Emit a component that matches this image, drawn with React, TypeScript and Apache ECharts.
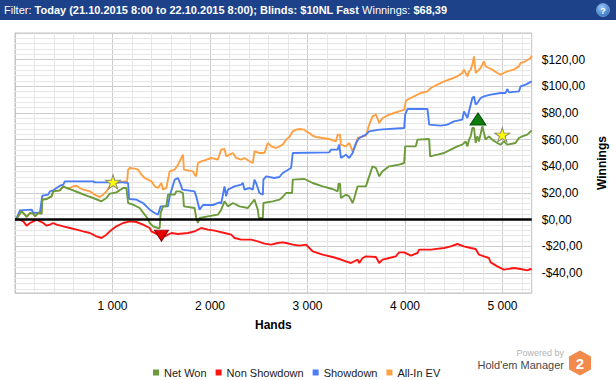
import React, { useEffect, useRef } from 'react';
import * as echarts from 'echarts';

// ---- data (hands, winnings $) ----
const netWon: [number, number][] = [
  [0, 0], [10, 0], [68, 6.25], [102, 3.75], [119, 2], [154, 5], [188, 4.5], [205, 2.5], [239, 5], [273, 4.5],
  [280, 15], [324, 15.5], [375, 17.5], [392, 21.25], [461, 22], [495, 25], [529, 23.75], [597, 22], [665, 20],
  [733, 18], [802, 16.25], [887, 13.75], [938, 16.25], [972, 19.5], [1040, 20.5], [1109, 23.75], [1143, 23.75],
  [1160, 12.5], [1211, 11.25], [1279, 8.75], [1330, 3.75], [1360, 1], [1382, -2.5], [1416, -5], [1467, -6.25],
  [1484, -6.25], [1494, 5], [1518, 10], [1552, 10], [1569, 18.75], [1638, 18.75], [1654, 21.25], [1689, 21.25],
  [1723, 20], [1733, 10], [1842, 8.75], [1859, 1.25], [1876, -2.5], [1893, 1.25], [1979, 2.5], [2081, 3.75],
  [2115, 7.5], [2149, 13.75], [2183, 10], [2235, 12.5], [2303, 10], [2388, 8.75], [2456, 15], [2490, 7.5],
  [2501, 1.25], [2542, 1.25], [2548, 12.5], [2644, 13.75], [2712, 15], [2746, 17], [2780, 20], [2842, 20],
  [2849, 30], [2968, 30.5], [3053, 27.5], [3155, 25], [3258, 23], [3309, 21.25], [3319, 27], [3333, 27],
  [3343, 16.25], [3394, 18.75], [3428, 17.5], [3463, 12.5], [3480, 16.25], [3514, 25], [3599, 25], [3633, 32.5],
  [3667, 40], [3702, 38.75], [3736, 32.5], [3770, 36.25], [3838, 40], [3940, 41.25], [3992, 42.5], [4002, 55],
  [4111, 55], [4128, 60], [4248, 60.5], [4258, 47.5], [4333, 48.75], [4401, 50], [4469, 52.5], [4537, 55],
  [4588, 56.25], [4622, 58.75], [4640, 55], [4657, 60], [4674, 62.5], [4691, 68.75], [4708, 68.75], [4725, 57.5],
  [4742, 62.5], [4759, 58.75], [4793, 70], [4810, 65], [4827, 60], [4861, 62.5], [4895, 60], [4947, 57.5],
  [4981, 56.25], [5015, 58.75], [5049, 56.25], [5134, 57.5], [5169, 61.25], [5203, 62.5], [5254, 63.75], [5300, 67],
];

const nonShowdown: [number, number][] = [
  [0, 0], [51, 0], [85, -1.25], [119, -4.5], [154, -2.5], [188, -1.25], [222, 0], [256, -1.25], [290, -2.5],
  [324, -4.5], [358, -3.75], [392, -2.5], [426, -3.75], [495, -5], [563, -6.25], [631, -7.5], [699, -8.75],
  [768, -10], [836, -12.5], [887, -13.75], [938, -11.25], [972, -8.75], [1040, -5], [1109, -2.5], [1177, -1.25],
  [1245, -1.75], [1314, -3.75], [1382, -6.25], [1399, -8.75], [1467, -11.25], [1535, -12.5], [1604, -10],
  [1672, -10.75], [1774, -10], [1842, -8.75], [1910, -6.25], [1979, -7.5], [2047, -8.25], [2149, -10],
  [2218, -11.25], [2252, -13.75], [2320, -15], [2422, -15], [2490, -16.25], [2559, -18], [2627, -18.75],
  [2695, -17.5], [2746, -17], [2780, -17.5], [2849, -18.75], [2917, -19.5], [2985, -18.75], [3019, -21.25],
  [3053, -23.75], [3155, -26.25], [3258, -28], [3326, -29.5], [3394, -31.25], [3446, -32.5], [3514, -30],
  [3531, -32.5], [3565, -28.75], [3599, -27.5], [3702, -28], [3736, -32.5], [3770, -30], [3838, -28.75],
  [3906, -27.5], [3940, -24.5], [3992, -24.5], [4060, -27], [4128, -25], [4145, -22.5], [4265, -22.5],
  [4401, -21.25], [4469, -20], [4537, -18.25], [4605, -20], [4674, -21.25], [4725, -22], [4759, -26.25],
  [4810, -27.5], [4861, -28.75], [4879, -32], [4947, -35], [5015, -37.5], [5117, -36.25], [5186, -37],
  [5254, -38], [5288, -37], [5300, -37.5],
];

const showdown: [number, number][] = [
  [0, 0], [10, 0], [51, 7], [171, 7.5], [188, 5], [256, 5.5], [280, 18], [341, 18.75], [358, 21.25], [392, 22],
  [426, 23.75], [461, 25.5], [495, 26.25], [512, 28.75], [802, 28.75], [819, 28], [1109, 28], [1160, 27.5],
  [1170, 15.5], [1245, 15], [1279, 13.75], [1314, 12.5], [1348, 10], [1382, 7.5], [1433, 5], [1467, 3.75],
  [1494, 10], [1569, 10], [1586, 17.5], [1638, 30], [1672, 31.25], [1706, 25], [1716, 22.5], [1842, 21.25],
  [1859, 17.5], [1893, 7.5], [1928, 11], [2030, 11], [2098, 13], [2115, 12], [2149, 25], [2166, 17.5],
  [2183, 22.5], [2252, 25], [2320, 26.25], [2337, 27.5], [2354, 22.5], [2405, 23.75], [2439, 22.5], [2456, 30],
  [2473, 27.5], [2507, 20], [2542, 18.75], [2548, 30], [2576, 32.5], [2661, 31.25], [2712, 32], [2746, 35],
  [2832, 38.75], [2849, 50], [3224, 50.5], [3241, 52.5], [3309, 52.5], [3326, 56.25], [3343, 46.25],
  [3394, 48.75], [3428, 46.25], [3463, 50], [3497, 57.5], [3531, 61.25], [3599, 63.75], [3633, 66.25],
  [3736, 67.5], [3992, 68.75], [4002, 78.75], [4026, 83], [4231, 83], [4248, 71.25], [4367, 70.5],
  [4435, 71.25], [4503, 73.75], [4588, 75], [4605, 81.25], [4640, 76.25], [4657, 81.25], [4691, 91.25],
  [4708, 92.5], [4725, 86.25], [4742, 87.5], [4776, 91.25], [4810, 92.5], [4879, 93.75], [4981, 95],
  [5032, 95], [5049, 98], [5066, 95.5], [5169, 96.25], [5186, 100], [5237, 101.25], [5300, 103.75],
];

const allInEV: [number, number][] = [
  [0, 0], [10, 0], [68, 6.25], [102, 3.75], [119, 2], [154, 5], [188, 4.5], [205, 2.5], [239, 5], [273, 4.5],
  [280, 15], [324, 15.5], [375, 17.5], [392, 21.25], [461, 22], [495, 25], [529, 23.75], [570, 24], [597, 25],
  [631, 25.5], [665, 23.75], [699, 22.5], [768, 21.25], [802, 19.5], [836, 18], [870, 17], [904, 18.75],
  [938, 21.25], [972, 25], [1040, 27.5], [1126, 28.75], [1150, 28.75], [1160, 37.5], [1177, 38.75],
  [1228, 38.25], [1262, 37.5], [1297, 33.75], [1331, 31.25], [1365, 30], [1399, 28.75], [1433, 25],
  [1467, 23.75], [1501, 27.5], [1518, 22.5], [1552, 23.75], [1569, 30], [1586, 36.25], [1638, 37.5],
  [1672, 41.25], [1706, 46.25], [1723, 48.75], [1733, 37.5], [1825, 36.25], [1842, 33.75], [1859, 32.5],
  [1876, 42.5], [1910, 43.75], [1944, 44.5], [2013, 46.25], [2081, 45], [2115, 52.5], [2149, 53],
  [2166, 47.5], [2200, 48.75], [2235, 50], [2269, 46.25], [2320, 45], [2354, 46.25], [2405, 43.75],
  [2439, 42.5], [2456, 51.25], [2507, 50], [2559, 50], [2593, 57.5], [2627, 55], [2678, 53.75], [2712, 55],
  [2746, 56.25], [2780, 60], [2815, 62], [2849, 66.25], [2883, 67.5], [2917, 68], [2968, 67.5], [2985, 66.25],
  [3019, 65], [3053, 63], [3087, 62], [3155, 61.25], [3224, 60.5], [3292, 58.75], [3309, 63.75], [3333, 63.75],
  [3343, 56.25], [3394, 55], [3428, 57.5], [3463, 51.25], [3497, 56.25], [3514, 61.25], [3599, 63],
  [3633, 71.25], [3667, 77.5], [3702, 78.75], [3736, 72.5], [3770, 76.25], [3838, 78.75], [3889, 80],
  [3940, 81.25], [3992, 82.5], [4009, 88.75], [4026, 90], [4060, 91.25], [4128, 93.75], [4162, 95],
  [4231, 96.25], [4265, 98.75], [4333, 101.25], [4401, 103.75], [4469, 105.5], [4537, 107.5], [4588, 110],
  [4605, 112.5], [4640, 107.5], [4657, 111.25], [4674, 112.5], [4691, 116.25], [4708, 122.5], [4725, 110],
  [4742, 111.25], [4776, 113.75], [4810, 118.75], [4827, 115], [4861, 113.75], [4895, 112.5], [4947, 110],
  [4981, 108.75], [5015, 110], [5049, 111.25], [5117, 112.5], [5169, 115], [5186, 117.5], [5237, 118.75],
  [5288, 121.25], [5300, 123],
];

const starMarks: [number, number][] = [[1006, 28.3], [4998, 63.7]];
const highMark: [number, number][] = [[4749, 75.5]];
const lowMark: [number, number][] = [[1502, -12]];

const seriesNames = ['Net Won', 'Non Showdown', 'Showdown', 'All-In EV'];
const seriesColors = ['#6b9b3a', '#ff1414', '#4a7df5', '#ffa043'];

const xMin = 0;
const xMax = 5300;
const xMajor = 1000;
const xMinorStep = 200;
const yMin = -55;
const yMax = 140;
const yMajor = 20;
const yMinorStep = 4;

const FONT = '"Liberation Sans", Arial, sans-serif';
const STAR = 'path://M50,0 L61,35 L98,35 L68,57 L79,91 L50,70 L21,91 L32,57 L2,35 L39,35 Z';

const money = (v: number) => (v < 0 ? '-' : '') + '$' + Math.abs(v).toFixed(2).replace('.', ',');

export default function App() {
  const ref = useRef<HTMLDivElement>(null);
  useEffect(() => {
    if (!ref.current) return;
    const chart = echarts.init(ref.current, undefined, { renderer: 'svg' });

    const yMinor: { yAxis: number }[] = [];
    for (let v = -52; v < yMax; v += yMinorStep) if (v % yMajor !== 0) yMinor.push({ yAxis: v });
    const xMinor: { xAxis: number }[] = [];
    for (let v = xMinorStep; v < xMax; v += xMinorStep) if (v % xMajor !== 0) xMinor.push({ xAxis: v });

    const line = (i: number, data: [number, number][], z: number) => ({
      name: seriesNames[i],
      type: 'line',
      data,
      showSymbol: false,
      symbol: 'none',
      z,
      silent: true,
      color: seriesColors[i],
      lineStyle: { color: seriesColors[i], width: 1.9 },
    });

    const option: any = {
      animation: false,
      backgroundColor: '#ffffff',
      textStyle: { fontFamily: FONT },
      grid: {
        left: 15, top: 33, right: 83, bottom: 87,
        show: true, borderColor: '#c4c4c4', borderWidth: 1, backgroundColor: '#ffffff',
      },
      legend: {
        data: seriesNames,
        left: 148,
        top: 362,
        icon: 'rect',
        itemWidth: 6,
        itemHeight: 6,
        itemGap: 9,
        selectedMode: false,
        textStyle: { fontSize: 11, color: '#1a1a1a', fontFamily: FONT },
      },
      xAxis: {
        type: 'value',
        min: xMin,
        max: xMax,
        interval: xMajor,
        name: 'Hands',
        nameLocation: 'middle',
        nameGap: 26,
        nameTextStyle: { fontWeight: 'bold', fontSize: 12, color: '#000', fontFamily: FONT },
        axisLine: { show: true, lineStyle: { color: '#c4c4c4' } },
        axisTick: { show: true, length: 3, lineStyle: { color: '#c4c4c4' } },
        axisLabel: {
          margin: 7, fontSize: 12, color: '#000', fontFamily: FONT,
          formatter: (v: number) => (v === 0 || v % 1000 !== 0 ? '' : v / 1000 + ' 000'),
        },
        splitLine: { show: true, lineStyle: { color: '#cccccc' } },
      },
      yAxis: {
        type: 'value',
        position: 'right',
        min: yMin,
        max: yMax,
        splitNumber: 10,
        minInterval: yMajor,
        maxInterval: yMajor,
        name: 'Winnings',
        nameLocation: 'middle',
        nameRotate: 90,
        nameGap: 54,
        nameTextStyle: { fontWeight: 'bold', fontSize: 12, color: '#000', fontFamily: FONT },
        axisLine: { show: true, lineStyle: { color: '#c4c4c4' } },
        axisTick: { show: true, length: 3, lineStyle: { color: '#c4c4c4' } },
        axisLabel: {
          margin: 10, fontSize: 12, color: '#000', fontFamily: FONT,
          formatter: (v: number) => (v % yMajor !== 0 || v >= yMax ? '' : money(v)),
        },
        splitLine: { show: true, lineStyle: { color: '#cccccc' } },
      },
      series: [
        {
          name: 'minor-grid',
          type: 'line',
          data: [],
          z: 1,
          silent: true,
          markLine: {
            z: 1,
            silent: true,
            symbol: ['none', 'none'],
            label: { show: false },
            emphasis: { disabled: true },
            lineStyle: { color: '#e6e6e6', width: 1, type: 'solid' },
            data: [...yMinor, ...xMinor],
          },
        },
        line(3, allInEV, 2),
        line(2, showdown, 3),
        line(1, nonShowdown, 4),
        line(0, netWon, 5),
        {
          name: 'zero-line',
          type: 'line',
          data: [],
          z: 6,
          silent: true,
          markLine: {
            z: 6,
            silent: true,
            symbol: ['none', 'none'],
            label: { show: false },
            emphasis: { disabled: true },
            lineStyle: { color: '#000000', width: 2.6, type: 'solid' },
            data: [{ yAxis: 0 }],
          },
        },
        {
          name: 'stars',
          type: 'scatter',
          data: starMarks,
          symbol: STAR,
          symbolSize: [15, 14],
          z: 7,
          silent: true,
          itemStyle: { color: '#ffff00', borderColor: '#8c8c70', borderWidth: 1, opacity: 1 },
        },
        {
          name: 'high',
          type: 'scatter',
          data: highMark,
          symbol: 'triangle',
          symbolSize: [16, 12],
          z: 7,
          silent: true,
          itemStyle: { color: '#0c7c0c', borderColor: '#075207', borderWidth: 1, opacity: 1 },
        },
        {
          name: 'low',
          type: 'scatter',
          data: lowMark,
          symbol: 'triangle',
          symbolRotate: 180,
          symbolSize: [14, 11],
          z: 7,
          silent: true,
          itemStyle: { color: '#e80000', borderColor: '#8a0000', borderWidth: 1, opacity: 1 },
        },
      ],
      graphic: [
        { type: 'rect', left: 0, top: 0, shape: { width: 616, height: 20 }, style: { fill: '#1d428a' }, silent: true },
        {
          type: 'text', x: 4, y: 10, silent: true,
          style: {
            text: '{n|Filter: }{b|Today (21.10.2015 8:00 to 22.10.2015 8:00); Blinds: $10NL Fast}{n| Winnings: }{b|$68,39}',
            verticalAlign: 'middle', align: 'left',
            rich: {
              n: { fill: '#ffffff', fontSize: 11, fontFamily: FONT },
              b: { fill: '#ffffff', fontSize: 11, fontWeight: 'bold', fontFamily: FONT },
            },
          },
        },
        {
          type: 'circle', silent: true, shape: { cx: 603, cy: 10, r: 6.5 },
          style: {
            fill: new echarts.graphic.RadialGradient(0.4, 0.3, 0.8, [
              { offset: 0, color: '#9cc8f5' },
              { offset: 1, color: '#2e6cc0' },
            ]),
            stroke: '#6fa0dc', lineWidth: 0.8,
          },
        },
        {
          type: 'text', x: 603, y: 10.5, silent: true,
          style: { text: '?', fill: '#ffffff', fontSize: 9, fontWeight: 'bold', fontFamily: FONT, align: 'center', verticalAlign: 'middle' },
        },
        {
          type: 'text', x: 564, y: 353, silent: true,
          style: { text: 'Powered by', fill: '#b4b4b4', fontSize: 9, fontFamily: FONT, align: 'right', verticalAlign: 'middle' },
        },
        {
          type: 'text', x: 564, y: 364.5, silent: true,
          style: { text: "Hold'em Manager", fill: '#474747', fontSize: 11, fontFamily: FONT, align: 'right', verticalAlign: 'middle' },
        },
        {
          type: 'polygon', silent: true,
          shape: { points: [[580, 351.5], [590, 357.2], [590, 368.8], [580, 374.5], [570, 368.8], [570, 357.2]] },
          style: { fill: '#f28a4c', stroke: '#f28a4c', lineWidth: 2, lineJoin: 'round' },
        },
        {
          type: 'text', x: 580, y: 363.5, silent: true,
          style: { text: '2', fill: '#ffffff', fontSize: 15, fontWeight: 'bold', fontFamily: FONT, align: 'center', verticalAlign: 'middle' },
        },
      ],
    };
    chart.setOption(option);
    return () => chart.dispose();
  }, []);
  return (
    <div
      ref={ref}
      style={{ position: 'absolute', left: 0, top: 0, width: 616, height: 380, background: '#fff' }}
    />
  );
}
